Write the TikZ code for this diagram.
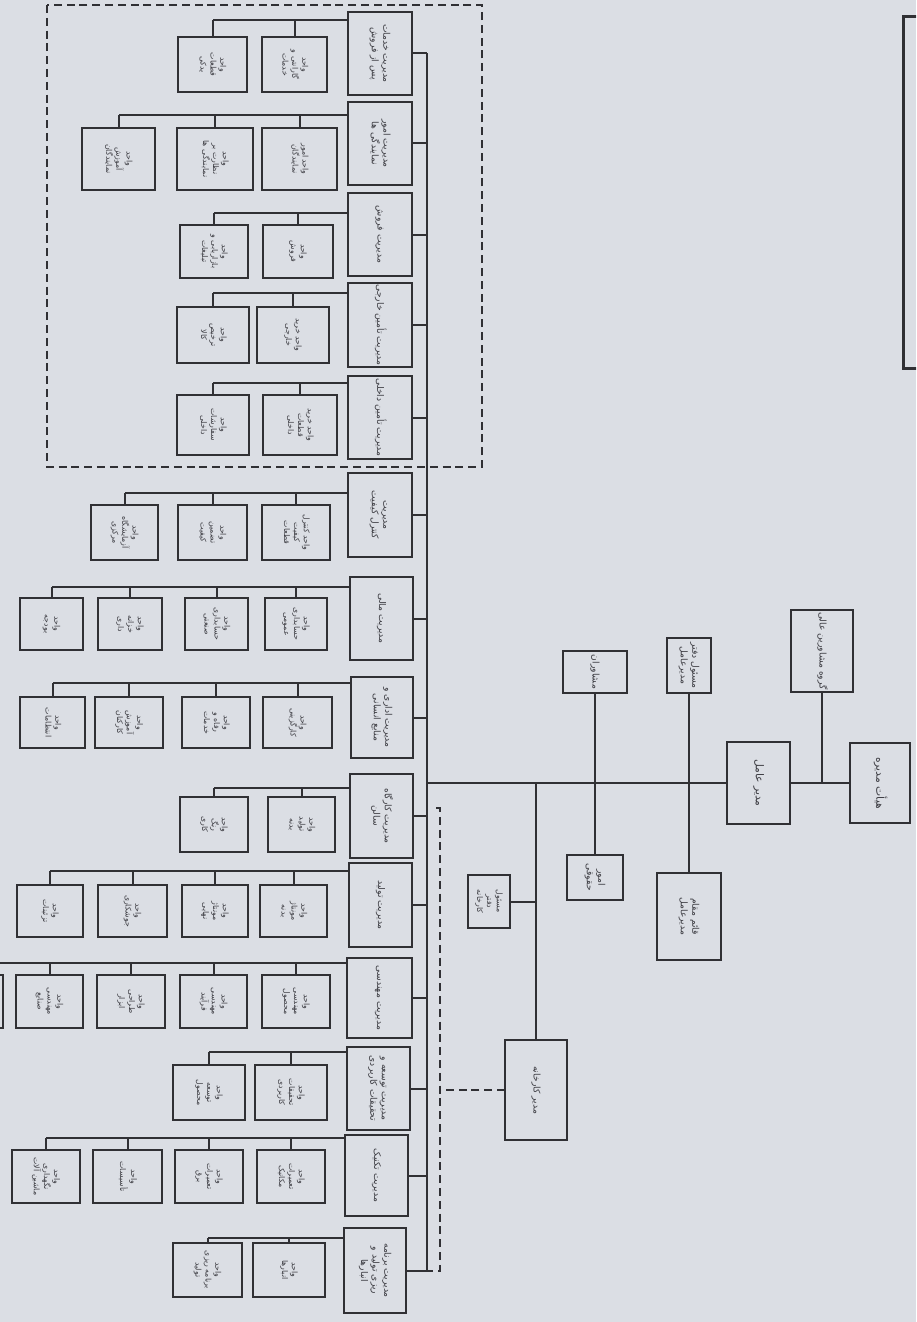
\documentclass[tikz,border=0pt]{standalone}
\usepackage{fontspec}
\usepackage{graphicx}
\newfontfamily\arabicfont[Script=Arabic]{DejaVu Sans}
\TeXXeTstate=1
\definecolor{bg}{RGB}{219,222,228}
\definecolor{ink}{RGB}{48,48,52}
\definecolor{txt}{RGB}{62,62,68}
\newcommand\R[1]{\beginR #1\endR}
\newcommand\lb[1]{\rotatebox{-90}{\begin{tabular}{@{}c@{}}#1\end{tabular}}}
\newcommand\bx[7][]{\node[box,#1,minimum width={(#5-#3)*0.5pt},minimum height={(#6-#4)*0.5pt}] (#2) at ({(#3+#5)/2},{(#4+#6)/2}) {\lb{#7}};}
\tikzset{
  box/.style={draw=ink, line width=1.1pt, inner sep=0pt, outer sep=0pt, text=txt,
    font=\arabicfont\fontsize{3.9}{4.9}\selectfont},
  main/.style={font=\arabicfont\fontsize{4.6}{5.8}\selectfont},
  head/.style={font=\arabicfont\fontsize{5.4}{6.6}\selectfont},
  link/.style={draw=ink, line width=1pt},
  dlink/.style={draw=ink, line width=1pt, dash pattern=on 4pt off 2.4pt},
}
\begin{document}
\begin{tikzpicture}[x=0.5pt,y=-0.5pt]
\useasboundingbox (0,0) rectangle (916,1322);
\clip (0,0) rectangle (916,1322);
\fill[bg] (0,0) rectangle (916,1322);

% dashed frame and legend bracket
\draw[dlink] (47,5) rectangle (482,467);
\draw[ink, line width=1.5pt] (950,17) -| (903,368) -- (950,368);

% top of hierarchy
\bx[head]{board}{850}{743}{910}{823}{\R{هیأت مدیره}}
\bx[head]{ceo}{727}{742}{790}{824}{\R{مدیر عامل}}
\bx[main]{adv}{791}{610}{853}{692}{\R{گروه مشاورین عالی}}
\bx[main]{office}{667}{638}{711}{693}{\R{مسئول دفتر}\\\R{مدیرعامل}}
\bx[main]{deputy}{657}{873}{721}{960}{\R{قائم مقام}\\\R{مدیرعامل}}
\bx[main]{cons}{563}{651}{627}{693}{\R{مشاوران}}
\bx[main]{legal}{567}{855}{623}{900}{\R{امور}\\\R{حقوقی}}
\bx[main]{fac}{505}{1040}{567}{1140}{\R{مدیر کارخانه}}
\bx{sm}{468}{875}{510}{928}{\R{مسئول}\\\R{دفتر}\\\R{کارخانه}}

% directorates
\bx[main]{b1}{348}{12}{412}{95}{\R{مدیریت خدمات}\\\R{پس از فروش}}
\bx[main]{b2}{348}{102}{412}{185}{\R{مدیریت امور}\\\R{نمایندگی ها}}
\bx[main]{b3}{348}{193}{412}{276}{\R{مدیریت فروش}}
\bx[main]{b4}{348}{283}{412}{367}{\R{مدیریت تأمین خارجی}}
\bx[main]{b5}{348}{376}{412}{459}{\R{مدیریت تأمین داخلی}}
\bx[main]{b6}{348}{473}{412}{557}{\R{مدیریت}\\\R{کنترل کیفیت}}
\bx[main]{b7}{350}{577}{413}{660}{\R{مدیریت مالی}}
\bx[main]{b8}{351}{677}{413}{758}{\R{مدیریت اداری و}\\\R{منابع انسانی}}
\bx[main]{b9}{350}{774}{413}{858}{\R{مدیریت کارگاه}\\\R{سالن}}
\bx[main]{b10}{349}{863}{412}{947}{\R{مدیریت تولید}}
\bx[main]{b11}{347}{958}{412}{1038}{\R{مدیریت مهندسی}}
\bx[main]{b12}{347}{1047}{410}{1130}{\R{مدیریت توسعه و}\\\R{تحقیقات کاربردی}}
\bx[main]{b13}{345}{1135}{408}{1216}{\R{مدیریت تکنیک}}
\bx[main]{b14}{344}{1228}{406}{1313}{\R{مدیریت برنامه}\\\R{ریزی تولید و}\\\R{انبارها}}

% units
\bx{s1a}{262}{37}{327}{92}{\R{واحد}\\\R{گارانتی و}\\\R{خدمات}}
\bx{s1b}{178}{37}{247}{92}{\R{واحد}\\\R{قطعات}\\\R{یدکی}}
\bx{s2a}{262}{128}{337}{190}{\R{واحد امور}\\\R{نمایندگان}}
\bx{s2b}{177}{128}{253}{190}{\R{واحد}\\\R{نظارت بر}\\\R{نمایندگی ها}}
\bx{s2c}{82}{128}{155}{190}{\R{واحد}\\\R{آموزش}\\\R{نمایندگان}}
\bx{s3a}{263}{225}{333}{278}{\R{واحد}\\\R{فروش}}
\bx{s3b}{180}{225}{248}{278}{\R{واحد}\\\R{بازاریابی و}\\\R{تبلیغات}}
\bx{s4a}{257}{307}{329}{363}{\R{واحد خرید}\\\R{خارجی}}
\bx{s4b}{177}{307}{249}{363}{\R{واحد}\\\R{ترخیص}\\\R{کالا}}
\bx{s5a}{263}{395}{337}{455}{\R{واحد خرید}\\\R{قطعات}\\\R{داخلی}}
\bx{s5b}{177}{395}{249}{455}{\R{واحد}\\\R{سفارشات}\\\R{داخلی}}
\bx{s6a}{262}{505}{330}{560}{\R{واحد کنترل}\\\R{کیفیت}\\\R{قطعات}}
\bx{s6b}{178}{505}{247}{560}{\R{واحد}\\\R{تضمین}\\\R{کیفیت}}
\bx{s6c}{91}{505}{158}{560}{\R{واحد}\\\R{آزمایشگاه}\\\R{مرکزی}}
\bx{s7a}{265}{598}{327}{650}{\R{واحد}\\\R{حسابداری}\\\R{عمومی}}
\bx{s7b}{185}{598}{248}{650}{\R{واحد}\\\R{حسابداری}\\\R{صنعتی}}
\bx{s7c}{98}{598}{162}{650}{\R{واحد}\\\R{خزانه}\\\R{داری}}
\bx{s7d}{20}{598}{83}{650}{\R{واحد}\\\R{بودجه}}
\bx{s8a}{263}{697}{332}{748}{\R{واحد}\\\R{کارگزینی}}
\bx{s8b}{182}{697}{250}{748}{\R{واحد}\\\R{رفاه و}\\\R{خدمات}}
\bx{s8c}{95}{697}{163}{748}{\R{واحد}\\\R{آموزش}\\\R{کارکنان}}
\bx{s8d}{20}{697}{85}{748}{\R{واحد}\\\R{انتظامات}}
\bx{s9a}{268}{797}{335}{852}{\R{واحد}\\\R{تولید}\\\R{بدنه}}
\bx{s9b}{180}{797}{248}{852}{\R{واحد}\\\R{رنگ}\\\R{کاری}}
\bx{s10a}{260}{885}{327}{937}{\R{واحد}\\\R{مونتاژ}\\\R{بدنه}}
\bx{s10b}{182}{885}{248}{937}{\R{واحد}\\\R{مونتاژ}\\\R{نهایی}}
\bx{s10c}{98}{885}{167}{937}{\R{واحد}\\\R{جوشکاری}}
\bx{s10d}{17}{885}{83}{937}{\R{واحد}\\\R{تزئینات}}
\bx{s11a}{262}{975}{330}{1028}{\R{واحد}\\\R{مهندسی}\\\R{محصول}}
\bx{s11b}{180}{975}{247}{1028}{\R{واحد}\\\R{مهندسی}\\\R{فرآیند}}
\bx{s11c}{97}{975}{165}{1028}{\R{واحد}\\\R{طراحی}\\\R{ابزار}}
\bx{s11d}{16}{975}{83}{1028}{\R{واحد}\\\R{مهندسی}\\\R{صنایع}}
\node[box, minimum width=32pt, minimum height=26.5pt] (s11e) at (-29,1001.5) {};
\bx{s12a}{255}{1065}{327}{1120}{\R{واحد}\\\R{تحقیقات}\\\R{کاربردی}}
\bx{s12b}{173}{1065}{245}{1120}{\R{واحد}\\\R{توسعه}\\\R{محصول}}
\bx{s13a}{257}{1150}{325}{1203}{\R{واحد}\\\R{تعمیرات}\\\R{مکانیک}}
\bx{s13b}{175}{1150}{243}{1203}{\R{واحد}\\\R{تعمیرات}\\\R{برق}}
\bx{s13c}{93}{1150}{162}{1203}{\R{واحد}\\\R{تأسیسات}}
\bx{s13d}{12}{1150}{80}{1203}{\R{واحد}\\\R{نگهداری}\\\R{ماشین آلات}}
\bx{s14a}{253}{1243}{325}{1297}{\R{واحد}\\\R{انبارها}}
\bx{s14b}{173}{1243}{242}{1297}{\R{واحد}\\\R{برنامه ریزی}\\\R{تولید}}

% spine and main axis
\coordinate (sT) at (427,53.5);
\coordinate (sB) at (427,1270.5);
\coordinate (ax) at (427,783);
\draw[link] (sT) -- (sB);
\foreach \i in {1,...,14} \draw[link] (b\i.east) -- (b\i.east -| sT);
\draw[link] (ax) -- (ceo.west);
\draw[link] (ceo.east) -- (board.west);
\draw[link] (adv.south) -- (adv.south |- ax);
\draw[link] (office.south) -- (deputy.north);
\draw[link] (cons.south) -- (legal.north);
\draw[link] (fac.north |- ax) -- (fac.north);
\draw[link] (sm.east) -- (sm.east -| fac.north);

% dashed functional link
\coordinate (dT) at (440,808);
\coordinate (dB) at (440,1270.5);
\draw[dlink] ([xshift=-2pt]dT) -- (dT) -- (dB) -- (sB);
\draw[dlink] (fac.west) -- (fac.west -| dT);

% unit bars
\coordinate (g1) at (s1b.north |- 0,20);
\coordinate (g2) at (s2c.north |- 0,115);
\coordinate (g3) at (s3b.north |- 0,213);
\coordinate (g4) at (s4b.north |- 0,293);
\coordinate (g5) at (s5b.north |- 0,383);
\coordinate (g6) at (s6c.north |- 0,493);
\coordinate (g7) at (s7d.north |- 0,587);
\coordinate (g8) at (s8d.north |- 0,683);
\coordinate (g9) at (s9b.north |- 0,788);
\coordinate (g10) at (s10d.north |- 0,871);
\coordinate (g11) at (s11e.north |- 0,963);
\coordinate (g12) at (s12b.north |- 0,1052);
\coordinate (g13) at (s13d.north |- 0,1138);
\coordinate (g14) at (s14b.north |- 0,1238);
\foreach \g/\subs in {1/{a,b},2/{a,b,c},3/{a,b},4/{a,b},5/{a,b},6/{a,b,c},7/{a,b,c,d},8/{a,b,c,d},9/{a,b},10/{a,b,c,d},11/{a,b,c,d,e},12/{a,b},13/{a,b,c,d},14/{a,b}}{
  \draw[link] (g\g -| b\g.west) -- (g\g);
  \foreach \s in \subs \draw[link] (s\g\s.north) -- (s\g\s.north |- g\g);
}
\end{tikzpicture}
\end{document}
